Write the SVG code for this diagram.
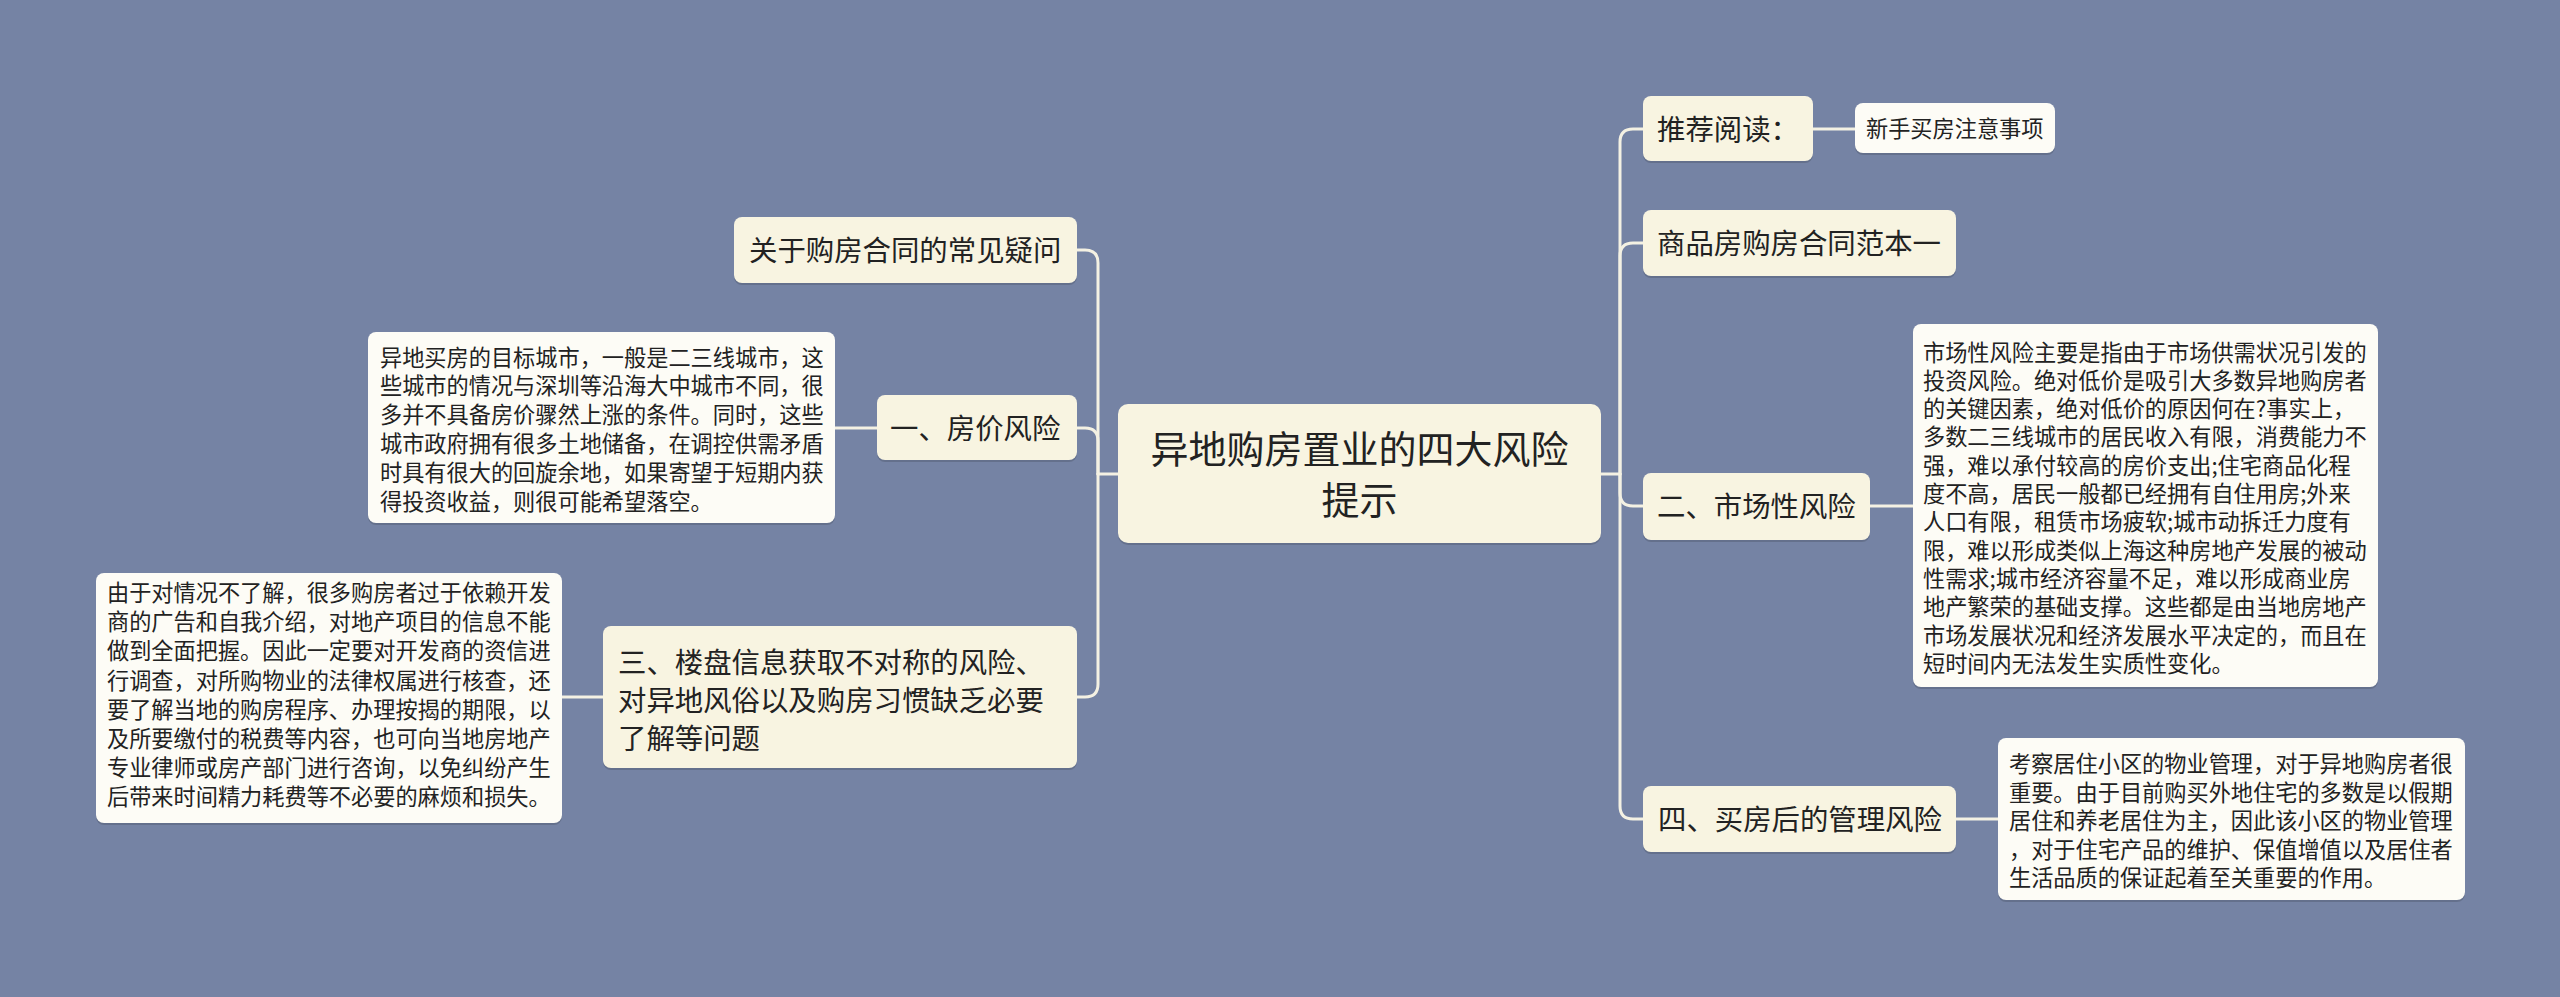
<svg xmlns="http://www.w3.org/2000/svg" width="2560" height="997" viewBox="0 0 2560 997">
<style>
.bg{fill:#7583a4}
.n{fill:#f8f4e1}
.d{fill:#fdfcf6}
.sh{fill:#000;opacity:0.14}
.t{font-family:"Noto Sans CJK SC","Noto Sans",sans-serif;fill:#222}
.t28{font-size:28.4px}
.t22{font-size:22.2px}
.t38{font-size:38px}
.c{fill:none;stroke:#f4f1e3;stroke-width:3;stroke-linecap:round}
</style>
<rect class="bg" x="0" y="0" width="2560" height="997"/>
<g id="connectors">
<path class="c" d="M1118 474 H1098"/>
<path class="c" d="M1098 474 V263 Q1098 250 1085 250 H1077"/>
<path class="c" d="M1098 474 V441 Q1098 428 1085 428 H1077"/>
<path class="c" d="M1098 474 V684 Q1098 697 1085 697 H1077"/>
<path class="c" d="M877 428 H835"/>
<path class="c" d="M603 697 H562"/>
<path class="c" d="M1601 474 H1620"/>
<path class="c" d="M1620 474 V142 Q1620 129 1633 129 H1643"/>
<path class="c" d="M1620 474 V256 Q1620 243 1633 243 H1643"/>
<path class="c" d="M1620 474 V493 Q1620 506 1633 506 H1643"/>
<path class="c" d="M1620 474 V806 Q1620 819 1633 819 H1643"/>
<path class="c" d="M1813 129 H1855"/>
<path class="c" d="M1870 506 H1913"/>
<path class="c" d="M1956 819 H1998"/>
</g>
<g id="root">
<rect class="sh" x="1118" y="406" width="483" height="139" rx="10"/>
<rect class="n" x="1118" y="404" width="483" height="139" rx="10"/>
<text class="t t38" x="1359.5" y="463" text-anchor="middle">异地购房置业的四大风险</text>
<text class="t t38" x="1359.5" y="514" text-anchor="middle">提示</text>
</g>
<g id="n-contract-faq">
<rect class="sh" x="734" y="219" width="343" height="66" rx="8"/>
<rect class="n" x="734" y="217" width="343" height="66" rx="8"/>
<text class="t t28" x="749" y="261">关于购房合同的常见疑问</text>
</g>
<g id="n-price">
<rect class="sh" x="877" y="397" width="200" height="65" rx="8"/>
<rect class="n" x="877" y="395" width="200" height="65" rx="8"/>
<text class="t t28" x="890" y="438.5">一、房价风险</text>
</g>
<g id="d-price">
<rect class="sh" x="368" y="334" width="467" height="191" rx="8"/>
<rect class="d" x="368" y="332" width="467" height="191" rx="8"/>
<text class="t t22" x="380" y="365.5">异地买房的目标城市，一般是二三线城市，这</text>
<text class="t t22" x="380" y="394.3">些城市的情况与深圳等沿海大中城市不同，很</text>
<text class="t t22" x="380" y="423.1">多并不具备房价骤然上涨的条件。同时，这些</text>
<text class="t t22" x="380" y="451.9">城市政府拥有很多土地储备，在调控供需矛盾</text>
<text class="t t22" x="380" y="480.7">时具有很大的回旋余地，如果寄望于短期内获</text>
<text class="t t22" x="380" y="509.5">得投资收益，则很可能希望落空。</text>
</g>
<g id="n-info">
<rect class="sh" x="603" y="628" width="474" height="142" rx="8"/>
<rect class="n" x="603" y="626" width="474" height="142" rx="8"/>
<text class="t t28" x="618" y="673">三、楼盘信息获取不对称的风险、</text>
<text class="t t28" x="618" y="711">对异地风俗以及购房习惯缺乏必要</text>
<text class="t t28" x="618" y="749">了解等问题</text>
</g>
<g id="d-info">
<rect class="sh" x="96" y="575" width="466" height="250" rx="8"/>
<rect class="d" x="96" y="573" width="466" height="250" rx="8"/>
<text class="t t22" x="107" y="601">由于对情况不了解，很多购房者过于依赖开发</text>
<text class="t t22" x="107" y="630.2">商的广告和自我介绍，对地产项目的信息不能</text>
<text class="t t22" x="107" y="659.4">做到全面把握。因此一定要对开发商的资信进</text>
<text class="t t22" x="107" y="688.6">行调查，对所购物业的法律权属进行核查，还</text>
<text class="t t22" x="107" y="717.8">要了解当地的购房程序、办理按揭的期限，以</text>
<text class="t t22" x="107" y="747">及所要缴付的税费等内容，也可向当地房地产</text>
<text class="t t22" x="107" y="776.2">专业律师或房产部门进行咨询，以免纠纷产生</text>
<text class="t t22" x="107" y="805.4">后带来时间精力耗费等不必要的麻烦和损失。</text>
</g>
<g id="n-recommend">
<rect class="sh" x="1643" y="98" width="170" height="65" rx="8"/>
<rect class="n" x="1643" y="96" width="170" height="65" rx="8"/>
<text class="t t28" x="1657" y="139.5">推荐阅读：</text>
</g>
<g id="n-newbie">
<rect class="sh" x="1855" y="105" width="200" height="50" rx="8"/>
<rect class="d" x="1855" y="103" width="200" height="50" rx="8"/>
<text class="t t22" x="1866" y="137">新手买房注意事项</text>
</g>
<g id="n-sample">
<rect class="sh" x="1643" y="212" width="313" height="66" rx="8"/>
<rect class="n" x="1643" y="210" width="313" height="66" rx="8"/>
<text class="t t28" x="1657" y="253.5">商品房购房合同范本一</text>
</g>
<g id="n-market">
<rect class="sh" x="1643" y="475" width="227" height="67" rx="8"/>
<rect class="n" x="1643" y="473" width="227" height="67" rx="8"/>
<text class="t t28" x="1657" y="516.5">二、市场性风险</text>
</g>
<g id="d-market">
<rect class="sh" x="1913" y="326" width="465" height="363" rx="8"/>
<rect class="d" x="1913" y="324" width="465" height="363" rx="8"/>
<text class="t t22" x="1923" y="360.5">市场性风险主要是指由于市场供需状况引发的</text>
<text class="t t22" x="1923" y="388.8">投资风险。绝对低价是吸引大多数异地购房者</text>
<text class="t t22" x="1923" y="417.1">的关键因素，绝对低价的原因何在?事实上，</text>
<text class="t t22" x="1923" y="445.4">多数二三线城市的居民收入有限，消费能力不</text>
<text class="t t22" x="1923" y="473.7">强，难以承付较高的房价支出;住宅商品化程</text>
<text class="t t22" x="1923" y="502">度不高，居民一般都已经拥有自住用房;外来</text>
<text class="t t22" x="1923" y="530.3">人口有限，租赁市场疲软;城市动拆迁力度有</text>
<text class="t t22" x="1923" y="558.6">限，难以形成类似上海这种房地产发展的被动</text>
<text class="t t22" x="1923" y="586.9">性需求;城市经济容量不足，难以形成商业房</text>
<text class="t t22" x="1923" y="615.2">地产繁荣的基础支撑。这些都是由当地房地产</text>
<text class="t t22" x="1923" y="643.5">市场发展状况和经济发展水平决定的，而且在</text>
<text class="t t22" x="1923" y="671.8">短时间内无法发生实质性变化。</text>
</g>
<g id="n-manage">
<rect class="sh" x="1643" y="788" width="313" height="66" rx="8"/>
<rect class="n" x="1643" y="786" width="313" height="66" rx="8"/>
<text class="t t28" x="1658" y="829.5">四、买房后的管理风险</text>
</g>
<g id="d-manage">
<rect class="sh" x="1998" y="740" width="467" height="162" rx="8"/>
<rect class="d" x="1998" y="738" width="467" height="162" rx="8"/>
<text class="t t22" x="2009" y="772">考察居住小区的物业管理，对于异地购房者很</text>
<text class="t t22" x="2009" y="800.6">重要。由于目前购买外地住宅的多数是以假期</text>
<text class="t t22" x="2009" y="829.2">居住和养老居住为主，因此该小区的物业管理</text>
<text class="t t22" x="2009" y="857.8">，对于住宅产品的维护、保值增值以及居住者</text>
<text class="t t22" x="2009" y="886.4">生活品质的保证起着至关重要的作用。</text>
</g>
</svg>
